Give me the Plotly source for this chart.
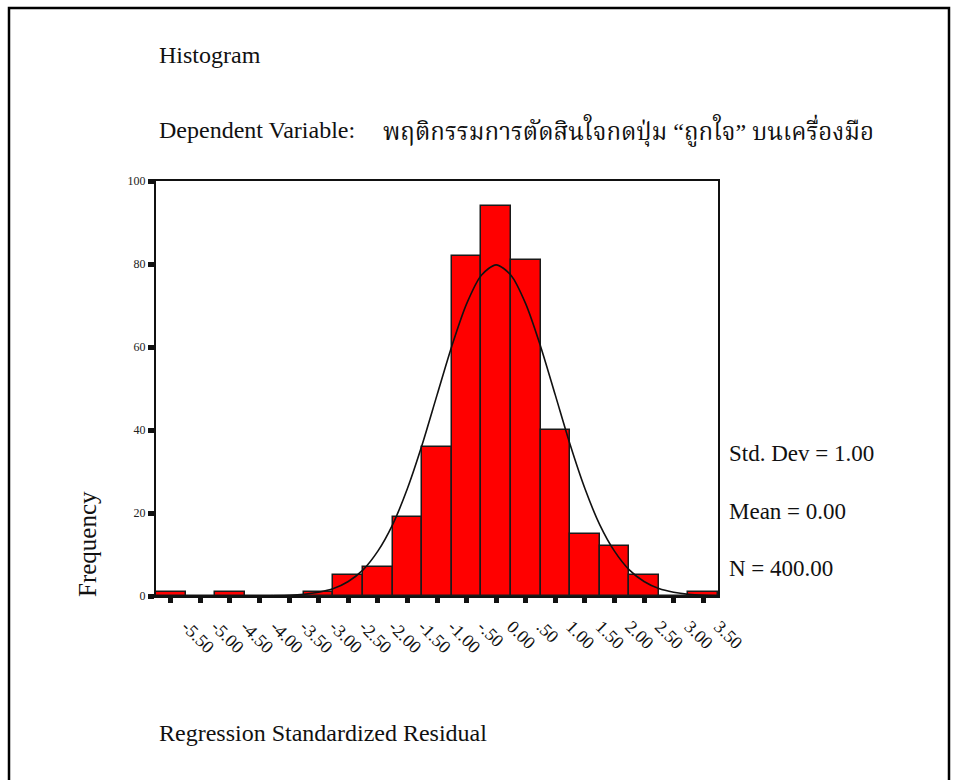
import plotly.graph_objects as go

# ---- data ----
bin_centers = [-5.5, -5.0, -4.5, -4.0, -3.5, -3.0, -2.5, -2.0, -1.5, -1.0,
               -0.5, 0.0, 0.5, 1.0, 1.5, 2.0, 2.5, 3.0, 3.5]
tick_labels = ["-5.50", "-5.00", "-4.50", "-4.00", "-3.50", "-3.00", "-2.50",
               "-2.00", "-1.50", "-1.00", "-.50", "0.00", ".50", "1.00",
               "1.50", "2.00", "2.50", "3.00", "3.50"]
frequencies = [1, 0, 1, 0, 0, 1, 5, 7, 19, 36, 82, 94, 81, 40, 15, 12, 5, 0, 1]

# normal curve heights
curve_x = [-5.75, -5.0, -4.5, -4.0, -3.5, -3.25, -3.0, -2.75, -2.5, -2.25, -2.0,
           -1.75, -1.5, -1.25, -1.0, -0.75, -0.5, -0.25, 0.0, 0.25, 0.5, 0.75,
           1.0, 1.25, 1.5, 1.75, 2.0, 2.25, 2.5, 2.75, 3.0, 3.25, 3.5, 3.75]
curve_y = [0.0, 0.0, 0.0, 0.03, 0.17, 0.4, 0.9, 1.8, 3.5, 6.3, 10.8,
           17.2, 25.9, 36.5, 48.4, 60.2, 70.4, 77.3, 79.8, 77.3, 70.4, 60.2,
           48.4, 36.5, 25.9, 17.2, 10.8, 6.3, 3.5, 1.8, 0.9, 0.4, 0.17, 0.07]

y_ticks = [0, 20, 40, 60, 80, 100]

title_text = "Histogram"
dep_label = "Dependent Variable:"
dep_name = "พฤติกรรมการตัดสินใจกดปุ่ม “ถูกใจ” บนเครื่องมือ"
stats_lines = ["Std. Dev = 1.00", "Mean = 0.00", "N = 400.00"]
x_title = "Regression Standardized Residual"
y_title = "Frequency"

# ---- layout geometry (pixels) ----
W, H = 954, 780
PL, PR, PT, PB = 156, 718, 181, 596
SERIF = "Liberation Serif, Times New Roman, serif"
THAI = "Liberation Serif, Noto Serif Thai, Noto Sans Thai, Tlwg Typo, serif"


def px(x):
    return (x - PL) / (PR - PL)


def py(y):
    return (PB - y) / (PB - PT)


fig = go.Figure()
fig.add_trace(go.Bar(
    x=bin_centers, y=frequencies, width=0.5,
    marker=dict(color="#ff0000", line=dict(color="#1a1a1a", width=1.5)),
    showlegend=False, hoverinfo="x+y",
))
fig.add_trace(go.Scatter(
    x=curve_x, y=curve_y, mode="lines",
    line=dict(color="#111111", width=1.6, shape="spline", smoothing=0.8),
    showlegend=False, hoverinfo="skip",
))

annotations = []


def text(t, x, y, size, family=SERIF, **kw):
    annotations.append(dict(
        text=t, x=px(x), y=py(y), xref="paper", yref="paper",
        xanchor=kw.pop("xanchor", "left"), yanchor=kw.pop("yanchor", "middle"),
        showarrow=False, font=dict(family=family, size=size, color="#111"), **kw))


text(title_text, 157, 55, 24)
text(dep_label, 157, 130, 24)
text(dep_name, 381, 130, 24, family=THAI)
for line, yy in zip(stats_lines, [453, 511, 568]):
    text(line, 727, yy, 23)
text(x_title, 157, 733, 24)
text(y_title, 87, 544, 25, xanchor="center", yanchor="middle", textangle=-90)

fig.update_layout(
    width=W, height=H,
    margin=dict(l=PL, r=W - PR, t=PT, b=H - PB, pad=0),
    paper_bgcolor="white", plot_bgcolor="white",
    bargap=0,
    annotations=annotations,
    shapes=[dict(type="rect", xref="paper", yref="paper",
                 x0=px(9), x1=px(949), y0=py(8), y1=py(800),
                 line=dict(color="black", width=2.5), layer="above")],
    xaxis=dict(
        range=[-5.75, 3.75], tickmode="array", tickvals=bin_centers,
        ticktext=tick_labels, tickangle=45,
        ticks="outside", ticklen=5, tickwidth=5, tickcolor="#111",
        showline=True, linecolor="#111", linewidth=2, mirror=True,
        showgrid=False, zeroline=False,
        tickfont=dict(family=SERIF, size=18, color="#111"),
        ticklabelstandoff=6, ticklabelshift=16,
    ),
    yaxis=dict(
        range=[0, 100], tickmode="array", tickvals=y_ticks,
        ticks="outside", ticklen=6, tickwidth=5, tickcolor="#111",
        showline=True, linecolor="#111", linewidth=2, mirror=True,
        showgrid=False, zeroline=False,
        tickfont=dict(family=SERIF, size=12, color="#222"),
        ticklabelstandoff=0,
    ),
)

fig.write_html("out.html")
